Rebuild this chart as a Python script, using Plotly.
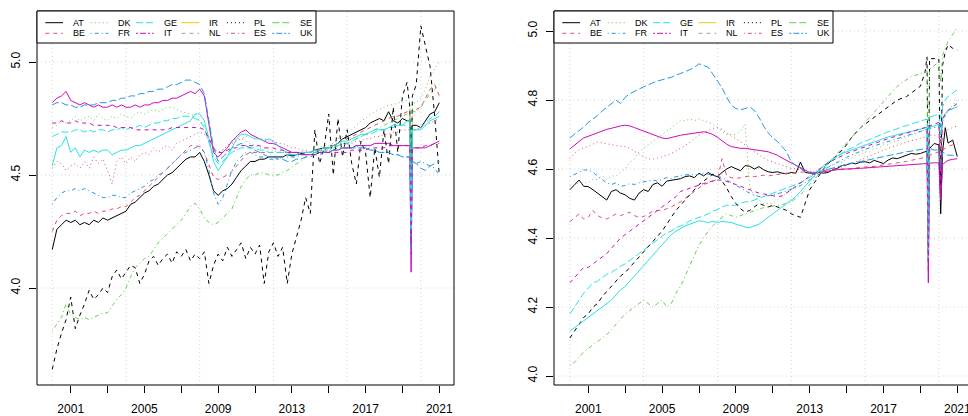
import plotly.graph_objects as go

W, H = 968, 416

names = ["AT", "BE", "DK", "FR", "GE", "IT", "IR", "NL", "PL", "ES", "SE", "UK"]

# time index (quarterly, with extra monthly points around the sharp dips)
left_dates = [2000 + q / 4 for q in range(78)] + [2019.40, 2019.47, 2019.54, 2019.75,
                                                 2020.0, 2020.25, 2020.5, 2020.75, 2021.0]
right_dates = [2000 + q / 4 for q in range(78)] + [2019.36, 2019.43, 2019.50, 2019.75,
                                                  2020.0, 2020.10, 2020.20, 2020.35, 2020.5, 2020.75, 2021.0]

# ---------------- left panel values ----------------
AT_left = [4.17,4.26,4.28,4.30, 4.29,4.30,4.28,4.29, 4.28,4.30,4.29,4.31, 4.30,4.31,4.32,4.33,
           4.34,4.37,4.38,4.40, 4.42,4.43,4.45,4.46, 4.48,4.50,4.51,4.53, 4.55,4.57,4.58,4.58,
           4.60,4.56,4.50,4.43, 4.41,4.43,4.44,4.46, 4.49,4.52,4.54,4.56, 4.56,4.57,4.57,4.58,
           4.58,4.58,4.58,4.59, 4.585,4.59,4.595,4.60, 4.60,4.61,4.615,4.62, 4.62,4.63,4.64,4.66,
           4.67,4.68,4.69,4.70, 4.71,4.73,4.74,4.75, 4.74,4.78,4.74,4.73,
           4.75,4.74,4.74,4.50,4.72,4.72, 4.71,4.74,4.77,4.78, 4.82]
BE_left = [4.25,4.30,4.32,4.33, 4.33,4.34,4.32,4.33, 4.33,4.34,4.33,4.34, 4.34,4.35,4.35,4.36,
           4.36,4.38,4.40,4.41, 4.43,4.45,4.47,4.49, 4.51,4.53,4.55,4.57, 4.59,4.61,4.63,4.63,
           4.625,4.60,4.54,4.49, 4.48,4.49,4.50,4.515, 4.54,4.57,4.59,4.60, 4.60,4.60,4.60,4.60,
           4.60,4.60,4.60,4.60, 4.60,4.60,4.60,4.60, 4.60,4.61,4.61,4.62, 4.62,4.63,4.64,4.65,
           4.66,4.67,4.68,4.69, 4.70,4.71,4.72,4.73, 4.74,4.75,4.76,4.76,
           4.77,4.78,4.78,4.40,4.79,4.79, 4.80,4.84,4.88,4.90, 4.85]
DK_left = [4.71,4.72,4.74,4.73, 4.74,4.76,4.74,4.75, 4.76,4.74,4.77,4.75, 4.74,4.76,4.75,4.77,
           4.76,4.75,4.77,4.78, 4.77,4.78,4.79,4.78, 4.79,4.80,4.80,4.79, 4.78,4.775,4.77,4.76,
           4.74,4.72,4.67,4.62, 4.60,4.61,4.63,4.65, 4.66,4.66,4.65,4.64, 4.63,4.62,4.62,4.61,
           4.61,4.60,4.60,4.60, 4.59,4.59,4.60,4.60, 4.60,4.61,4.62,4.63, 4.63,4.64,4.66,4.67,
           4.68,4.70,4.72,4.74, 4.75,4.77,4.78,4.79, 4.80,4.81,4.81,4.82,
           4.82,4.83,4.83,4.35,4.82,4.82, 4.84,4.88,4.94,4.97, 5.00]
FR_left = [4.37,4.40,4.42,4.43, 4.43,4.44,4.43,4.44, 4.43,4.42,4.41,4.40, 4.40,4.41,4.41,4.40,
           4.40,4.42,4.43,4.44, 4.45,4.47,4.48,4.50, 4.51,4.53,4.55,4.57, 4.59,4.60,4.61,4.62,
           4.63,4.60,4.52,4.42, 4.37,4.40,4.46,4.52, 4.56,4.58,4.60,4.60, 4.59,4.58,4.58,4.57,
           4.57,4.57,4.58,4.58, 4.58,4.58,4.59,4.59, 4.59,4.60,4.60,4.60, 4.61,4.61,4.62,4.62,
           4.62,4.62,4.63,4.62, 4.62,4.61,4.61,4.60, 4.60,4.60,4.59,4.59,
           4.58,4.58,4.58,4.15,4.56,4.55, 4.56,4.55,4.54,4.53, 4.50]
GE_left = [4.67,4.68,4.69,4.69, 4.69,4.70,4.70,4.69, 4.70,4.69,4.70,4.70, 4.69,4.70,4.70,4.71,
           4.70,4.71,4.71,4.72, 4.71,4.72,4.73,4.73, 4.74,4.74,4.75,4.75, 4.76,4.76,4.76,4.75,
           4.74,4.71,4.65,4.58, 4.55,4.56,4.58,4.60, 4.61,4.62,4.62,4.62, 4.62,4.61,4.61,4.60,
           4.60,4.60,4.60,4.59, 4.59,4.59,4.60,4.60, 4.60,4.60,4.61,4.61, 4.62,4.62,4.63,4.64,
           4.64,4.65,4.66,4.67, 4.68,4.68,4.69,4.70, 4.70,4.71,4.71,4.72,
           4.72,4.72,4.72,4.22,4.70,4.70, 4.71,4.73,4.75,4.76, 4.78]
IT_left = [4.82,4.84,4.85,4.87, 4.83,4.82,4.81,4.82, 4.81,4.80,4.81,4.80, 4.80,4.81,4.80,4.81,
           4.80,4.80,4.81,4.80, 4.81,4.81,4.82,4.82, 4.83,4.83,4.84,4.84, 4.85,4.86,4.87,4.86,
           4.88,4.85,4.72,4.60, 4.58,4.60,4.62,4.65, 4.67,4.69,4.70,4.68, 4.67,4.66,4.65,4.64,
           4.64,4.63,4.62,4.61, 4.60,4.60,4.59,4.59, 4.59,4.59,4.60,4.60, 4.60,4.61,4.61,4.62,
           4.62,4.62,4.63,4.63, 4.63,4.63,4.64,4.64, 4.64,4.64,4.63,4.63,
           4.63,4.63,4.63,4.07,4.62,4.62, 4.62,4.62,4.63,4.64, 4.65]
IR_left = [3.64,3.73,3.80,3.86, 3.96,3.82,3.88,3.93, 3.99,3.95,3.97,4.00, 3.98,4.05,4.08,4.04,
           4.07,4.10,4.09,4.02, 4.06,4.12,4.14,4.10, 4.13,4.15,4.11,4.16, 4.14,4.17,4.12,4.15,
           4.13,4.16,4.02,4.10, 4.15,4.12,4.18,4.14, 4.17,4.20,4.13,4.18, 4.15,4.19,4.02,4.16,
           4.20,4.14,4.18,4.02, 4.15,4.22,4.30,4.40, 4.33,4.70,4.55,4.62, 4.77,4.50,4.75,4.58,
           4.70,4.55,4.46,4.65, 4.60,4.40,4.62,4.49, 4.70,4.55,4.80,4.60,
           4.85,4.91,4.80,4.46,4.85,4.90, 5.16,5.07,4.98,4.76, 4.50]
NL_left = [4.53,4.56,4.55,4.52, 4.54,4.55,4.53,4.56, 4.53,4.58,4.55,4.57, 4.52,4.46,4.56,4.58,
           4.55,4.58,4.56,4.59, 4.60,4.59,4.62,4.60, 4.62,4.63,4.61,4.64, 4.65,4.66,4.67,4.68,
           4.69,4.68,4.65,4.61, 4.60,4.61,4.63,4.64, 4.65,4.66,4.67,4.68, 4.67,4.66,4.66,4.65,
           4.65,4.64,4.64,4.63, 4.62,4.62,4.61,4.61, 4.60,4.60,4.61,4.61, 4.62,4.62,4.63,4.63,
           4.64,4.64,4.65,4.65, 4.66,4.66,4.67,4.67, 4.68,4.68,4.69,4.69,
           4.70,4.70,4.70,4.30,4.70,4.70, 4.71,4.72,4.73,4.74, 4.75]
PL_left = [3.81,3.84,3.87,3.93, 3.88,3.87,3.86,3.87, 3.86,3.87,3.88,3.89, 3.89,3.92,3.95,3.97,
           4.00,4.05,4.09,4.11, 4.13,4.14,4.17,4.20, 4.22,4.24,4.26,4.28, 4.30,4.33,4.36,4.375,
           4.35,4.31,4.29,4.28, 4.29,4.31,4.33,4.35, 4.40,4.45,4.48,4.50, 4.50,4.51,4.51,4.50,
           4.50,4.50,4.51,4.52, 4.535,4.55,4.56,4.58, 4.59,4.60,4.60,4.61, 4.61,4.62,4.63,4.63,
           4.64,4.65,4.66,4.67, 4.68,4.69,4.70,4.71, 4.72,4.73,4.74,4.75,
           4.76,4.77,4.77,4.30,4.78,4.78, 4.80,4.83,4.86,4.88, 4.90]
ES_left = [4.81,4.82,4.82,4.81, 4.81,4.80,4.80,4.81, 4.81,4.81,4.82,4.82, 4.82,4.83,4.83,4.84,
           4.84,4.85,4.85,4.86, 4.86,4.87,4.87,4.88, 4.88,4.89,4.90,4.90, 4.91,4.92,4.92,4.91,
           4.90,4.86,4.74,4.62, 4.56,4.58,4.60,4.62, 4.63,4.64,4.63,4.62, 4.61,4.60,4.59,4.58,
           4.58,4.57,4.57,4.56, 4.56,4.57,4.57,4.58, 4.58,4.59,4.59,4.60, 4.60,4.61,4.61,4.62,
           4.62,4.62,4.62,4.62, 4.62,4.61,4.61,4.60, 4.60,4.60,4.59,4.59,
           4.58,4.58,4.58,4.18,4.56,4.55, 4.53,4.52,4.54,4.55, 4.56]
SE_left = [4.54,4.62,4.63,4.67, 4.60,4.62,4.58,4.61, 4.60,4.61,4.60,4.61, 4.61,4.59,4.60,4.61,
           4.61,4.62,4.63,4.63, 4.64,4.65,4.66,4.67, 4.68,4.69,4.70,4.71, 4.72,4.73,4.74,4.77,
           4.77,4.74,4.66,4.56, 4.52,4.55,4.58,4.62, 4.66,4.68,4.68,4.67, 4.66,4.66,4.65,4.66,
           4.65,4.63,4.61,4.60, 4.59,4.59,4.60,4.60, 4.60,4.61,4.61,4.62, 4.62,4.63,4.64,4.65,
           4.65,4.66,4.67,4.68, 4.68,4.69,4.70,4.70, 4.70,4.71,4.72,4.72,
           4.72,4.74,4.74,4.25,4.70,4.70, 4.70,4.72,4.74,4.75, 4.76]
UK_left = [4.73,4.73,4.74,4.73, 4.73,4.74,4.73,4.73, 4.73,4.72,4.72,4.72, 4.72,4.72,4.71,4.71,
           4.71,4.71,4.70,4.70, 4.70,4.70,4.70,4.70, 4.70,4.70,4.71,4.71, 4.71,4.71,4.71,4.71,
           4.71,4.70,4.66,4.62, 4.60,4.60,4.61,4.62, 4.62,4.63,4.63,4.63, 4.63,4.63,4.62,4.62,
           4.62,4.61,4.61,4.60, 4.60,4.60,4.60,4.59, 4.59,4.59,4.60,4.60, 4.60,4.60,4.60,4.60,
           4.60,4.61,4.61,4.61, 4.61,4.62,4.62,4.62, 4.62,4.63,4.63,4.63,
           4.63,4.63,4.63,4.20,4.62,4.62, 4.62,4.63,4.63,4.64, 4.64]

# ---------------- right panel values ----------------
AT_right = [4.540,4.555,4.568,4.550, 4.549,4.540,4.530,4.520, 4.510,4.535,4.540,4.530, 4.525,4.515,4.510,4.530,
            4.540,4.535,4.555,4.560, 4.550,4.565,4.568,4.570, 4.572,4.578,4.580,4.575, 4.588,4.580,4.590,4.582,
            4.578,4.590,4.600,4.607, 4.600,4.595,4.610,4.608, 4.600,4.607,4.598,4.592, 4.590,4.592,4.588,4.586,
            4.590,4.588,4.620,4.590, 4.588,4.585,4.590,4.588, 4.590,4.598,4.602,4.610, 4.612,4.617,4.615,4.620,
            4.621,4.618,4.625,4.620, 4.616,4.626,4.632,4.630, 4.635,4.640,4.645,4.643,
            4.645,4.650,4.652,4.450,4.660,4.674, 4.670,4.470,4.650,4.720,4.675,4.684, 4.636]
BE_right = [4.447,4.460,4.470,4.455, 4.460,4.480,4.465,4.458, 4.455,4.462,4.470,4.465, 4.470,4.475,4.465,4.460,
            4.462,4.470,4.478,4.480, 4.480,4.485,4.490,4.498, 4.505,4.515,4.525,4.535, 4.545,4.555,4.560,4.565,
            4.570,4.630,4.580,4.575, 4.572,4.575,4.578,4.580, 4.578,4.580,4.582,4.580, 4.582,4.585,4.585,4.588,
            4.588,4.590,4.590,4.592, 4.590,4.592,4.595,4.598, 4.598,4.600,4.600,4.598, 4.600,4.600,4.603,4.605,
            4.605,4.607,4.608,4.610, 4.610,4.612,4.615,4.618, 4.620,4.622,4.625,4.628,
            4.630,4.632,4.635,4.380,4.640,4.645, 4.650,4.600,4.655,4.660,4.665,4.670, 4.675]
DK_right = [4.550,4.555,4.560,4.560, 4.560,4.570,4.570,4.580, 4.570,4.580,4.580,4.590, 4.600,4.620,4.630,4.650,
            4.660,4.670,4.680,4.690, 4.700,4.710,4.720,4.730, 4.740,4.740,4.745,4.740, 4.745,4.740,4.735,4.730,
            4.720,4.710,4.700,4.700, 4.700,4.710,4.730,4.550, 4.520,4.510,4.500,4.500, 4.500,4.510,4.520,4.530,
            4.540,4.550,4.560,4.570, 4.580,4.590,4.600,4.600, 4.610,4.610,4.620,4.620, 4.630,4.630,4.640,4.640,
            4.650,4.650,4.660,4.660, 4.670,4.670,4.680,4.680, 4.690,4.690,4.700,4.700,
            4.710,4.712,4.715,4.400,4.718,4.720, 4.725,4.700,4.735,4.750,4.770,4.785, 4.800]
FR_right = [4.578,4.585,4.592,4.597, 4.597,4.590,4.580,4.570, 4.560,4.555,4.560,4.550, 4.552,4.558,4.555,4.560,
            4.562,4.565,4.568,4.565, 4.570,4.575,4.572,4.578, 4.580,4.582,4.585,4.582, 4.585,4.588,4.585,4.582,
            4.580,4.575,4.568,4.560, 4.552,4.545,4.538,4.530, 4.525,4.520,4.520,4.522, 4.525,4.528,4.532,4.536,
            4.540,4.546,4.552,4.560, 4.568,4.576,4.585,4.595, 4.605,4.612,4.620,4.627, 4.634,4.640,4.646,4.652,
            4.657,4.662,4.667,4.672, 4.676,4.680,4.684,4.688, 4.692,4.696,4.700,4.704,
            4.708,4.712,4.715,4.360,4.718,4.720, 4.725,4.690,4.740,4.760,4.770,4.775, 4.780]
GE_right = [4.180,4.200,4.220,4.240, 4.255,4.270,4.275,4.285, 4.295,4.300,4.310,4.318, 4.325,4.335,4.345,4.355,
            4.365,4.375,4.385,4.395, 4.405,4.415,4.420,4.430, 4.435,4.440,4.450,4.455, 4.460,4.465,4.470,4.478,
            4.482,4.490,4.495,4.495, 4.495,4.500,4.505,4.505, 4.510,4.515,4.520,4.525, 4.530,4.535,4.540,4.545,
            4.550,4.555,4.560,4.568, 4.575,4.585,4.595,4.605, 4.615,4.625,4.635,4.645, 4.655,4.660,4.668,4.675,
            4.680,4.686,4.692,4.698, 4.702,4.708,4.712,4.718, 4.722,4.726,4.730,4.734,
            4.738,4.742,4.745,4.380,4.750,4.755, 4.760,4.720,4.780,4.800,4.810,4.820, 4.830]
IT_right = [4.658,4.670,4.680,4.690, 4.695,4.700,4.705,4.712, 4.715,4.718,4.722,4.725, 4.727,4.725,4.720,4.715,
            4.710,4.705,4.700,4.695, 4.690,4.688,4.692,4.695, 4.698,4.700,4.702,4.705, 4.706,4.708,4.705,4.700,
            4.692,4.682,4.672,4.665, 4.662,4.660,4.660,4.658, 4.656,4.655,4.652,4.650, 4.645,4.640,4.632,4.625,
            4.618,4.610,4.602,4.595, 4.590,4.588,4.590,4.592, 4.595,4.598,4.600,4.600, 4.600,4.600,4.602,4.602,
            4.603,4.604,4.605,4.606, 4.607,4.607,4.608,4.609, 4.610,4.611,4.612,4.613,
            4.614,4.615,4.616,4.270,4.617,4.618, 4.618,4.510,4.612,4.620,4.625,4.628, 4.630]
IR_right = [4.110,4.130,4.150,4.170, 4.180,4.200,4.210,4.230, 4.245,4.260,4.275,4.290, 4.300,4.315,4.330,4.345,
            4.360,4.375,4.390,4.405, 4.420,4.440,4.460,4.480, 4.495,4.510,4.525,4.540, 4.555,4.565,4.575,4.585,
            4.580,4.565,4.545,4.520, 4.500,4.485,4.475,4.480, 4.490,4.500,4.495,4.490, 4.495,4.490,4.485,4.480,
            4.470,4.465,4.460,4.500, 4.540,4.560,4.580,4.600, 4.615,4.630,4.640,4.655, 4.670,4.690,4.705,4.720,
            4.730,4.740,4.750,4.760, 4.770,4.780,4.790,4.800, 4.805,4.810,4.820,4.830,
            4.840,4.880,4.925,4.450,4.920,4.920, 4.920,4.550,4.900,4.940,4.960,4.950, 4.945]
NL_right = [4.630,4.645,4.655,4.660, 4.665,4.672,4.678,4.675, 4.672,4.670,4.668,4.666, 4.665,4.660,4.652,4.645,
            4.635,4.630,4.628,4.632, 4.635,4.640,4.645,4.652, 4.660,4.668,4.678,4.688, 4.698,4.705,4.712,4.718,
            4.720,4.715,4.705,4.695, 4.688,4.680,4.670,4.660, 4.650,4.640,4.632,4.625, 4.620,4.615,4.610,4.605,
            4.602,4.600,4.598,4.595, 4.592,4.590,4.590,4.592, 4.595,4.598,4.602,4.606, 4.610,4.615,4.620,4.626,
            4.632,4.638,4.644,4.650, 4.655,4.660,4.665,4.670, 4.674,4.678,4.682,4.686,
            4.690,4.692,4.694,4.400,4.696,4.698, 4.700,4.660,4.705,4.710,4.715,4.720, 4.725]
PL_right = [4.030,4.040,4.055,4.070, 4.080,4.090,4.100,4.110, 4.120,4.135,4.150,4.165, 4.180,4.190,4.200,4.210,
            4.220,4.210,4.200,4.210, 4.220,4.200,4.210,4.240, 4.260,4.290,4.320,4.350, 4.380,4.400,4.420,4.435,
            4.450,4.460,4.470,4.465, 4.460,4.465,4.470,4.475, 4.480,4.485,4.488,4.490, 4.492,4.495,4.498,4.500,
            4.505,4.515,4.525,4.540, 4.555,4.570,4.585,4.600, 4.615,4.630,4.645,4.660, 4.675,4.690,4.705,4.720,
            4.735,4.750,4.765,4.780, 4.795,4.810,4.825,4.840, 4.850,4.860,4.868,4.872,
            4.875,4.880,4.885,4.420,4.890,4.900, 4.910,4.850,4.930,4.950,4.970,4.990, 5.010]
ES_right = [4.690,4.700,4.712,4.722, 4.735,4.745,4.755,4.768, 4.778,4.790,4.800,4.790, 4.808,4.818,4.826,4.832,
            4.838,4.845,4.850,4.855, 4.858,4.862,4.866,4.872, 4.876,4.882,4.888,4.895, 4.905,4.900,4.895,4.875,
            4.855,4.835,4.808,4.785, 4.775,4.772,4.775,4.780, 4.770,4.750,4.725,4.705, 4.690,4.680,4.665,4.650,
            4.620,4.610,4.600,4.592, 4.588,4.588,4.592,4.596, 4.600,4.603,4.606,4.610, 4.613,4.616,4.619,4.622,
            4.625,4.628,4.631,4.634, 4.637,4.640,4.643,4.646, 4.648,4.650,4.652,4.654,
            4.656,4.658,4.660,4.330,4.660,4.655, 4.655,4.600,4.650,4.645,4.640,4.640, 4.640]
SE_right = [4.130,4.140,4.150,4.160, 4.170,4.180,4.190,4.200, 4.210,4.220,4.235,4.250, 4.260,4.275,4.290,4.305,
            4.320,4.335,4.350,4.365, 4.380,4.395,4.410,4.420, 4.428,4.435,4.440,4.445, 4.450,4.448,4.445,4.448,
            4.445,4.448,4.447,4.445, 4.440,4.435,4.432,4.430, 4.435,4.440,4.450,4.460, 4.470,4.480,4.490,4.500,
            4.510,4.520,4.535,4.550, 4.565,4.580,4.595,4.610, 4.620,4.630,4.638,4.645, 4.650,4.655,4.660,4.665,
            4.670,4.675,4.680,4.685, 4.690,4.693,4.696,4.700, 4.703,4.706,4.709,4.712,
            4.715,4.718,4.720,4.340,4.722,4.725, 4.730,4.700,4.745,4.760,4.770,4.775, 4.780]
UK_right = [4.270,4.285,4.300,4.315, 4.315,4.325,4.335,4.345, 4.355,4.370,4.385,4.400, 4.410,4.420,4.430,4.440,
            4.450,4.460,4.470,4.480, 4.490,4.500,4.510,4.520, 4.535,4.540,4.545,4.550, 4.555,4.558,4.562,4.565,
            4.568,4.568,4.565,4.560, 4.555,4.550,4.545,4.540, 4.535,4.530,4.528,4.525, 4.522,4.520,4.522,4.530,
            4.540,4.550,4.560,4.570, 4.580,4.590,4.600,4.610, 4.618,4.625,4.632,4.640, 4.645,4.650,4.655,4.660,
            4.665,4.670,4.675,4.680, 4.684,4.688,4.692,4.696, 4.700,4.704,4.708,4.712,
            4.716,4.720,4.722,4.300,4.725,4.730, 4.735,4.550,4.745,4.760,4.770,4.780, 4.790]

left_series = [AT_left, BE_left, DK_left, FR_left, GE_left, IT_left,
               IR_left, NL_left, PL_left, ES_left, SE_left, UK_left]
right_series = [AT_right, BE_right, DK_right, FR_right, GE_right, IT_right,
                IR_right, NL_right, PL_right, ES_right, SE_right, UK_right]
for s in left_series:
    assert len(s) == len(left_dates), len(s)
for s in right_series:
    assert len(s) == len(right_dates), len(s)

# ticks
x_ticks = [2001, 2003, 2005, 2007, 2009, 2011, 2013, 2015, 2017, 2019, 2021]
x_tick_labels = ["2001", "", "2005", "", "2009", "", "2013", "", "2017", "", "2021"]
x_grid = [2000, 2004, 2008, 2012, 2016, 2020]
left_y_ticks = [4.0, 4.5, 5.0]
right_y_ticks = [4.0, 4.2, 4.4, 4.6, 4.8, 5.0]

# styles (R palette; matplot default col = 1:6, lty = 1:5)
palette = ["#000000", "#DF536B", "#61D04F", "#2297E6", "#28E2E5", "#CD0BBC", "#F5C710", "#9E9E9E"]
ltys = ["solid", "dashed", "dotted", "dotdash", "longdash", "twodash"]
dash_px = {"solid": "solid", "dashed": "4px,4px", "dotted": "1px,3px",
           "dotdash": "1px,3px,4px,3px", "longdash": "7px,3px", "twodash": "2px,2px,6px,2px"}

FONT = "Liberation Sans, Arial, Helvetica, sans-serif"

def px_x(px):
    return px / W

def px_y(py):
    return 1 - py / H

TOP, BOTTOM = 11, 385
L_LEFT, L_RIGHT = 37, 454
R_LEFT, R_RIGHT = 554, 972

fig = go.Figure()

for i, (nm, vals) in enumerate(zip(names, left_series)):
    fig.add_trace(go.Scatter(x=left_dates, y=vals, mode="lines", name=nm, showlegend=False,
                             line=dict(color=palette[i % 6], width=1, dash=dash_px[ltys[i % 5]]),
                             xaxis="x", yaxis="y", hoverinfo="skip"))
for i, (nm, vals) in enumerate(zip(names, right_series)):
    fig.add_trace(go.Scatter(x=right_dates, y=vals, mode="lines", name=nm, showlegend=False,
                             line=dict(color=palette[i % 6], width=1, dash=dash_px[ltys[i % 5]]),
                             xaxis="x2", yaxis="y2", hoverinfo="skip"))

ydom = [px_y(BOTTOM), px_y(TOP)]
axis_common = dict(showgrid=False, zeroline=False, showline=False, ticks="outside", ticklen=7,
                   tickwidth=1, tickcolor="black", tickfont=dict(family=FONT, size=12, color="black"),
                   automargin=False, fixedrange=True, ticklabeloverflow="allow")

fig.update_layout(
    width=W, height=H, autosize=False,
    margin=dict(l=0, r=0, t=0, b=0),
    paper_bgcolor="white", plot_bgcolor="white",
    showlegend=False,
    xaxis=dict(domain=[px_x(L_LEFT), px_x(L_RIGHT)], range=[1999.171, 2021.798], anchor="y",
               tickmode="array", tickvals=x_ticks, ticktext=x_tick_labels, ticklabelstandoff=6,
               **axis_common),
    yaxis=dict(domain=ydom, range=[3.5708, 5.2257], anchor="x",
               tickmode="array", tickvals=left_y_ticks, ticktext=["%.1f" % v for v in left_y_ticks],
               tickangle=-90, ticklabelstandoff=4, **axis_common),
    xaxis2=dict(domain=[px_x(R_LEFT), 1.0], range=[1999.141, 2021.58], anchor="y2",
                tickmode="array", tickvals=x_ticks, ticktext=x_tick_labels, ticklabelstandoff=6,
                **axis_common),
    yaxis2=dict(domain=ydom, range=[3.974, 5.058], anchor="x2",
                tickmode="array", tickvals=right_y_ticks, ticktext=["%.1f" % v for v in right_y_ticks],
                tickangle=-90, ticklabelstandoff=4, **axis_common),
)

shapes = []
grid_line = dict(color="#D3D3D3", width=1, dash="1px,3px")
for xr, yr, yt in [("x", "y", left_y_ticks), ("x2", "y2", right_y_ticks)]:
    for g in x_grid:
        shapes.append(dict(type="line", xref=xr, yref=yr + " domain", x0=g, x1=g, y0=0, y1=1,
                           line=grid_line, layer="below"))
    for v in yt:
        shapes.append(dict(type="line", xref=xr + " domain", yref=yr, x0=0, x1=1, y0=v, y1=v,
                           line=grid_line, layer="below"))

frame = dict(color="black", width=1)
shapes.append(dict(type="rect", xref="paper", yref="paper", x0=px_x(L_LEFT), x1=px_x(L_RIGHT),
                   y0=px_y(BOTTOM), y1=px_y(TOP), line=frame, layer="above"))
for (x0, y0, x1, y1) in [(R_LEFT, TOP, R_RIGHT, TOP), (R_LEFT, BOTTOM, R_RIGHT, BOTTOM),
                         (R_LEFT, TOP, R_LEFT, BOTTOM)]:
    shapes.append(dict(type="line", xref="paper", yref="paper", x0=px_x(x0), x1=px_x(x1),
                       y0=px_y(y0), y1=px_y(y1), line=frame, layer="above"))

# legends (as drawn: col = 1:8, lty = 1:6 recycled, 6 columns)
annotations = []
LEG_W, LEG_H = 279, 32
rows_y = [22.7, 33.3]
for left in (L_LEFT, R_LEFT):
    shapes.append(dict(type="rect", xref="paper", yref="paper", x0=px_x(left), x1=px_x(left + LEG_W),
                       y0=px_y(TOP + LEG_H), y1=px_y(TOP), line=frame, fillcolor="white", layer="above"))
    for k, nm in enumerate(names):
        col, row = k // 2, k % 2
        lx = left + 8.3 + col * 45.4
        ly = rows_y[row]
        shapes.append(dict(type="line", xref="paper", yref="paper", x0=px_x(lx), x1=px_x(lx + 17.7),
                           y0=px_y(ly), y1=px_y(ly),
                           line=dict(color=palette[k % 8], width=1, dash=dash_px[ltys[k % 6]]),
                           layer="above"))
        annotations.append(dict(xref="paper", yref="paper", x=px_x(lx + 25.4), y=px_y(ly),
                                xanchor="left", yanchor="middle", text=nm, showarrow=False,
                                font=dict(family=FONT, size=9, color="black")))

fig.update_layout(shapes=shapes, annotations=annotations)
fig.write_html("out.html", config={"displayModeBar": False, "staticPlot": True},
               post_script="document.body.style.margin='0px';")
